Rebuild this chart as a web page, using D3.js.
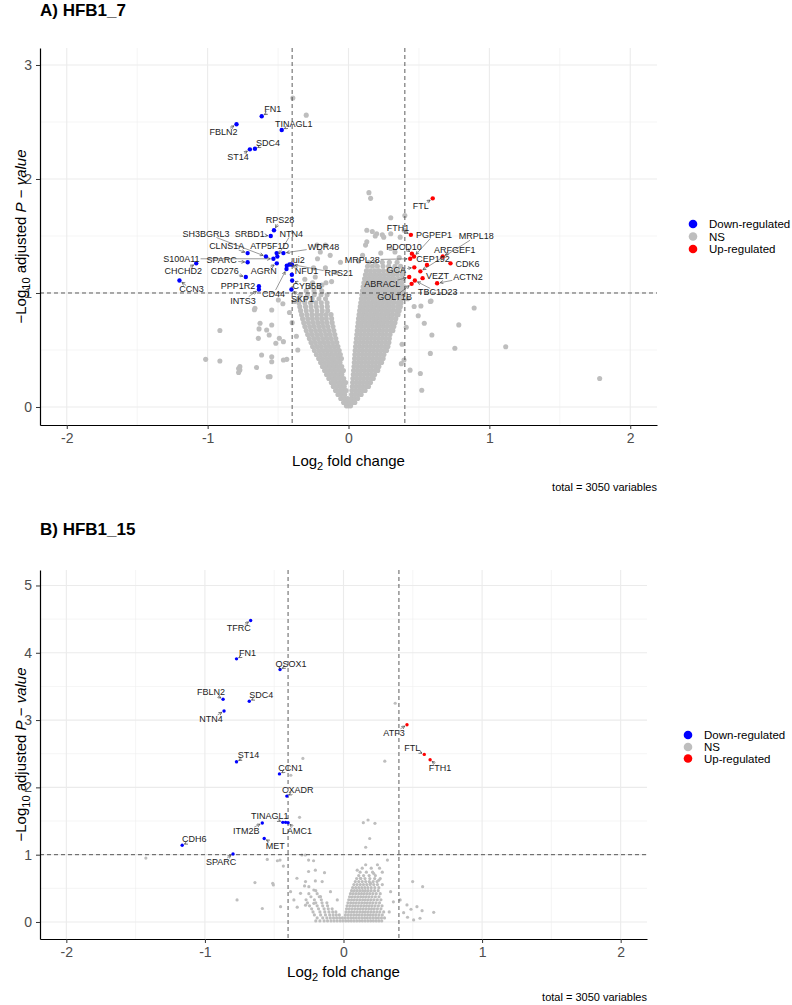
<!DOCTYPE html>
<meta charset="utf-8">
<body style="margin:0;background:#fff">
<script src="https://d3js.org/d3.v7.min.js"></script>
<script>
// ---- shared ----
var xTicks = [-2, -1, 0, 1, 2];
var yTicksA = [0, 1, 2, 3];
var yTicksB = [0, 1, 2, 3, 4, 5];
var fcCut = 0.4, pCut = 1;
var legendLabels = ["Down-regulated", "NS", "Up-regulated"];
var legendColors = ["#0000FF", "#BEBEBE", "#FF0000"];
var caption = "total = 3050 variables";

// ---- A) HFB1_7 : [gene, log2FC, -log10 padj] ----
var downA = [
  ["FN1", -0.616, 2.55], ["FBLN2", -0.795, 2.48], ["TINAGL1", -0.474, 2.43],
  ["SDC4", -0.664, 2.265], ["ST14", -0.70, 2.26], ["RPS28", -0.529, 1.55],
  ["SRBD1", -0.552, 1.50], ["SH3BGRL3", -0.586, 1.32], ["NTN4", -0.505, 1.32],
  ["CLNS1A", -0.716, 1.35], ["ATP5F1D", -0.51, 1.35], ["WDR48", -0.462, 1.35],
  ["S100A11", -0.533, 1.30], ["SPARC", -0.716, 1.27], ["AGRN", -0.509, 1.26],
  ["ui2", -0.438, 1.24], ["NFU1", -0.419, 1.25], ["RPS21", -0.402, 1.25],
  ["CD44", -0.44, 1.21], ["CHCHD2", -1.081, 1.26], ["CCN3", -1.2, 1.11],
  ["CD276", -0.729, 1.14], ["PPP1R2", -0.636, 1.06], ["INTS3", -0.636, 1.03],
  ["CYB5B", -0.40, 1.11], ["SKP1", -0.405, 1.03]
];
var downExtraA = [[-0.402, 1.16]];
var upA = [
  ["FTL", 0.598, 1.83], ["FTH1", 0.443, 1.51], ["PGPEP1", 0.465, 1.32],
  ["PDCD10", 0.45, 1.345], ["MRPL28", 0.438, 1.30], ["ARFGEF1", 0.669, 1.32],
  ["CDK6", 0.724, 1.26], ["CEP192", 0.557, 1.245], ["GCA", 0.467, 1.225],
  ["MRPL18", 0.51, 1.19], ["VEZT", 0.526, 1.13], ["ABRACL", 0.431, 1.14],
  ["ACTN2", 0.629, 1.085], ["TBC1D23", 0.471, 1.11], ["GOLT1B", 0.448, 1.08]
];
var nsA = [
  [-0.395, 2.71], [-0.30, 2.56], [0.145, 1.88], [0.157, 1.83], [0.40, 1.68], [0.30, 1.66],
  [0.169, 1.54], [0.20, 1.52], [0.24, 1.51], [0.30, 1.52], [0.25, 1.49], [0.367, 1.49], [0.395, 1.55],
  [0.13, 1.55], [0.19, 1.5], [0.13, 1.45], [0.121, 1.42], [0.30, 1.39], [0.229, 1.35], [0.33, 1.36],
  [0.36, 1.31], [0.10, 1.33], [0.07, 1.28],
  [-0.164, 1.42], [-0.224, 1.42], [-0.20, 1.36], [-0.164, 1.22], [-0.248, 1.22], [-0.236, 1.14],
  [-0.188, 1.07], [-0.057, 1.27], [-0.09, 1.18], [-0.31, 1.12], [-0.12, 1.10], [-0.22, 1.3], [-0.13, 1.33],
  [-1.014, 0.418], [-0.913, 0.403], [-0.913, 0.671], [-0.78, 0.338], [-0.78, 0.303], [-0.653, 0.347],
  [-0.57, 0.265], [-0.545, 0.44], [-0.545, 0.397], [-0.498, 0.939], [-0.545, 0.851], [-0.664, 0.866],
  [-0.545, 0.719], [-0.581, 0.675], [-0.640, 0.602], [-0.462, 0.573], [-0.771, 0.354], [-0.771, 0.325],
  [-0.557, 0.266], [-0.462, 0.412], [-0.438, 0.418], [-0.628, 0.735], [-0.635, 0.685], [-0.563, 0.632],
  [-0.668, 0.853], [-0.419, 0.829], [-0.466, 0.906], [-0.383, 0.926], [-0.516, 0.559], [-0.491, 0.603],
  [-0.617, 0.456], [-0.40, 0.74], [-0.37, 0.62], [-0.36, 0.5],
  [1.116, 0.529], [1.783, 0.25], [0.892, 0.868], [0.783, 0.72], [0.755, 0.515], [0.592, 0.632],
  [0.581, 0.47], [0.581, 0.926], [0.538, 0.735], [0.52, 0.147], [0.51, 0.294], [0.466, 0.882],
  [0.437, 0.323], [0.394, 0.412], [0.375, 0.38], [0.514, 0.886], [0.495, 0.80], [0.586, 0.93],
  [0.42, 0.95], [0.41, 0.7], [0.38, 0.55]
];
// dense core of the V: [y, [x ...]]
var nsCoreA = [
  [0.01, [-0.015, 0.0, 0.015]],
  [0.04, [-0.035, -0.012, 0.008, 0.028, 0.045]],
  [0.075, [-0.055, -0.03, -0.008, 0.02, 0.042, 0.065]],
  [0.11, [-0.075, -0.05, -0.027, 0.022, 0.046, 0.07, 0.09]],
  [0.145, [-0.092, -0.066, -0.041, -0.017, 0.024, 0.05, 0.073, 0.098, 0.118]],
  [0.18, [-0.108, -0.083, -0.057, -0.03, 0.027, 0.052, 0.077, 0.101, 0.126, 0.142]],
  [0.215, [-0.122, -0.097, -0.07, -0.044, -0.02, 0.029, 0.055, 0.08, 0.104, 0.13, 0.156]],
  [0.25, [-0.14, -0.113, -0.087, -0.06, -0.034, 0.031, 0.057, 0.082, 0.108, 0.133, 0.158, 0.176]],
  [0.285, [-0.156, -0.128, -0.1, -0.073, -0.047, 0.034, 0.059, 0.085, 0.11, 0.136, 0.161, 0.186]],
  [0.32, [-0.17, -0.143, -0.115, -0.088, -0.06, -0.036, 0.036, 0.062, 0.087, 0.113, 0.138, 0.163, 0.189, 0.208]],
  [0.355, [-0.185, -0.157, -0.13, -0.102, -0.075, -0.048, 0.039, 0.064, 0.09, 0.115, 0.141, 0.166, 0.192, 0.216]],
  [0.39, [-0.198, -0.17, -0.142, -0.114, -0.087, -0.06, 0.041, 0.067, 0.092, 0.118, 0.143, 0.169, 0.194, 0.22, 0.235]],
  [0.425, [-0.212, -0.184, -0.155, -0.127, -0.1, -0.072, -0.05, 0.043, 0.069, 0.095, 0.12, 0.146, 0.171, 0.197, 0.222, 0.246]],
  [0.46, [-0.228, -0.198, -0.168, -0.139, -0.111, -0.083, -0.058, 0.045, 0.071, 0.097, 0.123, 0.148, 0.174, 0.2, 0.225, 0.252]],
  [0.495, [-0.242, -0.211, -0.181, -0.151, -0.122, -0.093, -0.066, 0.047, 0.073, 0.099, 0.125, 0.151, 0.177, 0.203, 0.229, 0.255, 0.27]],
  [0.53, [-0.255, -0.224, -0.193, -0.162, -0.133, -0.103, -0.075, 0.05, 0.076, 0.102, 0.128, 0.154, 0.18, 0.206, 0.232, 0.258, 0.28]],
  [0.565, [-0.266, -0.235, -0.204, -0.173, -0.143, -0.113, -0.083, 0.053, 0.079, 0.105, 0.131, 0.157, 0.183, 0.209, 0.235, 0.261, 0.287]],
  [0.6, [-0.278, -0.246, -0.214, -0.183, -0.152, -0.122, -0.09, 0.056, 0.082, 0.108, 0.134, 0.16, 0.186, 0.212, 0.238, 0.264, 0.29]],
  [0.635, [-0.29, -0.257, -0.225, -0.193, -0.161, -0.13, -0.097, 0.059, 0.085, 0.111, 0.137, 0.163, 0.189, 0.215, 0.241, 0.267, 0.295]],
  [0.67, [-0.3, -0.267, -0.234, -0.202, -0.17, -0.138, -0.104, 0.062, 0.088, 0.114, 0.14, 0.166, 0.192, 0.218, 0.244, 0.27, 0.298, 0.315]],
  [0.705, [-0.31, -0.276, -0.243, -0.21, -0.178, -0.146, -0.11, 0.065, 0.091, 0.117, 0.143, 0.169, 0.195, 0.221, 0.247, 0.273, 0.3, 0.322]],
  [0.74, [-0.318, -0.284, -0.25, -0.217, -0.185, -0.152, -0.116, 0.068, 0.094, 0.12, 0.146, 0.172, 0.198, 0.224, 0.25, 0.276, 0.303, 0.33]],
  [0.775, [-0.326, -0.29, -0.256, -0.222, -0.19, -0.157, -0.12, 0.071, 0.097, 0.123, 0.149, 0.175, 0.201, 0.227, 0.253, 0.279, 0.306, 0.336]],
  [0.81, [-0.333, -0.296, -0.26, -0.226, -0.192, -0.158, -0.124, 0.075, 0.101, 0.127, 0.153, 0.179, 0.205, 0.231, 0.257, 0.283, 0.31, 0.34, 0.352]],
  [0.845, [-0.34, -0.3, -0.262, -0.224, -0.186, -0.148, 0.079, 0.105, 0.131, 0.157, 0.183, 0.209, 0.235, 0.261, 0.287, 0.314, 0.344, 0.36]],
  [0.88, [-0.346, -0.305, -0.266, -0.228, -0.19, -0.15, 0.083, 0.109, 0.135, 0.161, 0.187, 0.213, 0.239, 0.265, 0.291, 0.318, 0.348, 0.368]],
  [0.915, [-0.352, -0.31, -0.27, -0.232, -0.193, -0.152, 0.087, 0.113, 0.139, 0.165, 0.191, 0.217, 0.243, 0.269, 0.295, 0.322, 0.352, 0.374]],
  [0.95, [-0.354, -0.305, -0.258, -0.21, -0.163, 0.091, 0.117, 0.143, 0.169, 0.195, 0.221, 0.247, 0.273, 0.299, 0.326, 0.356, 0.38]],
  [0.985, [-0.342, -0.292, -0.243, -0.195, -0.152, 0.095, 0.121, 0.147, 0.173, 0.199, 0.225, 0.251, 0.277, 0.303, 0.33, 0.36, 0.385]],
  [1.02, [-0.3, -0.245, -0.19, 0.099, 0.125, 0.151, 0.177, 0.203, 0.229, 0.255, 0.281, 0.307, 0.334, 0.364, 0.39]],
  [1.055, [-0.27, -0.205, 0.104, 0.13, 0.156, 0.182, 0.208, 0.234, 0.26, 0.286, 0.312, 0.34, 0.37, 0.394]],
  [1.09, [-0.255, -0.16, 0.109, 0.135, 0.161, 0.187, 0.213, 0.239, 0.265, 0.291, 0.318, 0.348, 0.378]],
  [1.125, [0.114, 0.14, 0.166, 0.192, 0.218, 0.244, 0.27, 0.297, 0.325, 0.356, 0.386]],
  [1.16, [0.12, 0.147, 0.174, 0.201, 0.228, 0.256, 0.285, 0.315, 0.347, 0.38]],
  [1.195, [0.127, 0.156, 0.186, 0.216, 0.248, 0.28, 0.314, 0.35, 0.388]],
  [1.235, [0.135, 0.17, 0.205, 0.245, 0.285, 0.33, 0.37]],
  [1.27, [0.145, 0.19, 0.24, 0.29, 0.345]]
];

// ---- B) HFB1_15 ----
var downB = [
  ["TFRC", -0.670, 4.48], ["FN1", -0.772, 3.91], ["QSOX1", -0.458, 3.75],
  ["FBLN2", -0.869, 3.31], ["SDC4", -0.680, 3.28], ["NTN4", -0.862, 3.135],
  ["ST14", -0.772, 2.38], ["CCN1", -0.462, 2.2], ["CXADR", -0.409, 1.87],
  ["TINAGL1", -0.438, 1.48], ["LAMC1", -0.40, 1.475], ["ITM2B", -0.586, 1.47],
  ["MET", -0.572, 1.24], ["CDH6", -1.164, 1.14], ["SPARC", -0.797, 1.01]
];
var downExtraB = [[-0.418, 1.48]];
var upB = [["ATF3", 0.458, 2.93], ["FTL", 0.583, 2.49], ["FTH1", 0.625, 2.41]];
var nsB = [
  [0.373, 3.25], [0.298, 2.39], [-0.293, 2.43], [-0.38, 2.18], [-0.317, 1.555],
  [0.143, 1.475], [0.177, 1.515], [0.227, 1.466], [0.189, 1.24], [0.16, 1.11],
  [-1.426, 0.95], [-0.30, 0.995], [-0.276, 0.995], [-0.252, 0.92], [-0.216, 0.91],
  [-0.55, 0.93], [-0.477, 0.91], [-0.434, 0.83], [-0.639, 0.585], [-0.506, 0.55],
  [-0.336, 0.65], [-0.252, 0.75], [-0.203, 0.77], [-0.281, 0.535], [-0.203, 0.61],
  [-0.768, 0.327], [-0.511, 0.575], [-0.458, 0.92], [-0.137, 0.733], [-0.154, 0.6],
  [-0.358, 0.327], [-0.31, 0.426], [-0.274, 0.6], [-0.25, 0.525], [-0.214, 0.475],
  [-0.166, 0.376], [-0.586, 0.2], [-0.454, 0.227], [-0.382, 0.45], [-0.094, 0.45],
  [-0.045, 0.327], [-0.214, 0.277], [-0.274, 0.25], [-0.334, 0.22],
  [0.499, 0.60], [0.571, 0.525], [0.409, 0.327], [0.458, 0.253], [0.53, 0.228],
  [0.487, 0.189], [0.567, 0.168], [0.651, 0.144], [0.434, 0.138], [0.462, 0.07],
  [0.506, 0.03], [0.552, 0.055], [0.317, 0.92], [0.245, 0.85], [0.16, 0.85],
  [0.099, 0.77], [0.122, 0.65], [0.218, 0.72], [0.254, 0.62], [0.195, 0.575],
  [0.34, 0.45], [0.36, 0.3], [0.33, 0.15]
];
var nsCoreB = [
  [0.015, [-0.2, -0.17, -0.14, -0.115, -0.09, -0.068, -0.046, -0.024, -0.004, 0.016, 0.036, 0.056, 0.076, 0.096, 0.116, 0.136, 0.156, 0.176, 0.196, 0.216, 0.236, 0.256, 0.276]],
  [0.06, [-0.19, -0.15, -0.12, -0.095, -0.072, -0.05, -0.028, -0.008, 0.012, 0.032, 0.052, 0.072, 0.092, 0.112, 0.132, 0.152, 0.172, 0.192, 0.212, 0.232, 0.252, 0.274, 0.296]],
  [0.105, [-0.21, -0.165, -0.13, -0.1, -0.075, -0.052, -0.03, 0.014, 0.034, 0.054, 0.074, 0.094, 0.114, 0.134, 0.154, 0.174, 0.194, 0.214, 0.234, 0.256, 0.28]],
  [0.15, [-0.22, -0.17, -0.135, -0.105, -0.078, -0.055, 0.018, 0.038, 0.058, 0.078, 0.098, 0.118, 0.138, 0.158, 0.178, 0.198, 0.218, 0.24, 0.262, 0.29]],
  [0.195, [-0.23, -0.18, -0.14, -0.11, -0.082, 0.022, 0.042, 0.062, 0.082, 0.102, 0.122, 0.142, 0.162, 0.182, 0.202, 0.222, 0.245, 0.27]],
  [0.24, [-0.245, -0.19, -0.15, -0.115, 0.026, 0.046, 0.066, 0.086, 0.106, 0.126, 0.146, 0.166, 0.186, 0.206, 0.228, 0.252, 0.278]],
  [0.285, [-0.26, -0.2, -0.155, -0.12, 0.032, 0.052, 0.072, 0.092, 0.112, 0.132, 0.152, 0.172, 0.192, 0.212, 0.235, 0.26]],
  [0.33, [-0.27, -0.21, -0.16, 0.038, 0.058, 0.078, 0.098, 0.118, 0.138, 0.158, 0.178, 0.198, 0.22, 0.244, 0.27]],
  [0.375, [-0.235, -0.175, 0.044, 0.064, 0.084, 0.104, 0.124, 0.144, 0.164, 0.184, 0.206, 0.23, 0.256]],
  [0.42, [-0.25, -0.19, 0.05, 0.07, 0.09, 0.11, 0.13, 0.15, 0.17, 0.19, 0.212, 0.236, 0.265]],
  [0.465, [-0.2, 0.058, 0.078, 0.098, 0.118, 0.138, 0.158, 0.178, 0.2, 0.224, 0.25]],
  [0.51, [0.066, 0.088, 0.11, 0.132, 0.154, 0.176, 0.2, 0.226, 0.255]],
  [0.555, [0.075, 0.098, 0.121, 0.144, 0.168, 0.192, 0.218, 0.245, 0.28]],
  [0.6, [0.085, 0.11, 0.135, 0.16, 0.186, 0.214, 0.242]],
  [0.645, [0.095, 0.125, 0.155, 0.19, 0.225, 0.265]],
  [0.69, [0.11, 0.145, 0.185, 0.23]],
  [0.74, [0.12, 0.165, 0.21, 0.28]],
  [0.8, [0.135, 0.2, 0.26]]
];

// label nudges (px from point to label centre)
var nudgeA = {
  FN1: [11, -7], FBLN2: [-13, 8], TINAGL1: [12, -6], SDC4: [13, -6], ST14: [-12, 8],
  RPS28: [6, -10], SRBD1: [-21, -2], SH3BGRL3: [-60, -23], NTN4: [14, -23], CLNS1A: [-21, -7],
  ATP5F1D: [-7, -7], WDR48: [40, -6], S100A11: [-92, 0], SPARC: [-26, -2], AGRN: [-13, 8],
  ui2: [12, -6], NFU1: [17, 7], RPS21: [47, 9], CD44: [-13, 25], CHCHD2: [-13, 8],
  CCN3: [12, 9], CD276: [-21, -6], PPP1R2: [-21, 0], INTS3: [-16, 11], CYB5B: [15, 6], SKP1: [11, 9],
  FTL: [-12, 8], FTH1: [-13, -7], PGPEP1: [20, -22], PDCD10: [-8, -7], MRPL28: [-48, 1],
  ARFGEF1: [12, -7], CDK6: [17, 1], CEP192: [6, -6], GCA: [-18, 3], VEZT: [15, -2],
  MRPL18: [56, -35], ABRACL: [-27, 7], ACTN2: [31, -6], TBC1D23: [23, 12], GOLT1B: [-17, 13]
};
var nudgeB = {
  TFRC: [-12, 8], FN1: [11, -6], QSOX1: [11, -6], FBLN2: [-12, -7], SDC4: [12, -6],
  NTN4: [-13, 8], ST14: [12, -7], CCN1: [11, -6], CXADR: [11, -6], TINAGL1: [-13, -6],
  LAMC1: [9, 8], ITM2B: [-16, 8], MET: [11, 7], CDH6: [12, -6], SPARC: [-12, 8],
  ATF3: [-13, 8], FTL: [-12, -6], FTH1: [10, 8]
};

var svg = d3.select("body").append("svg")
    .attr("width", 792).attr("height", 1005)
    .style("font-family", "'Liberation Sans', Arial, sans-serif");
svg.append("rect").attr("width", 792).attr("height", 1005).attr("fill", "#fff");

svg.append("defs").append("marker")
    .attr("id", "arr").attr("viewBox", "0 0 10 10")
    .attr("refX", 9).attr("refY", 5)
    .attr("markerWidth", 4).attr("markerHeight", 4)
    .attr("markerUnits", "userSpaceOnUse").attr("orient", "auto")
  .append("path").attr("d", "M1,1L9,5L1,9")
    .attr("fill", "none").attr("stroke", "#444").attr("stroke-width", 1.6);

function flatRows(rows) {
  var out = [];
  rows.forEach(function(r) { r[1].forEach(function(v) { out.push([v, r[0]]); }); });
  return out;
}

function drawPanel(p) {
  var g = svg.append("g");
  var x = d3.scaleLinear().domain(p.xDomain).range([p.left, p.right]);
  var y = d3.scaleLinear().domain(p.yDomain).range([p.bottom, p.top]);
  var xMinor = d3.pairs(xTicks).map(function(d) { return (d[0] + d[1]) / 2; });
  var yMinor = d3.pairs(p.yTicks).map(function(d) { return (d[0] + d[1]) / 2; });

  // title
  g.append("text").attr("x", p.left).attr("y", p.titleY)
    .attr("font-size", 17).attr("font-weight", "bold").text(p.title);

  // grid
  g.selectAll(null).data(xMinor).join("line")
    .attr("x1", function(d) { return x(d); }).attr("x2", function(d) { return x(d); })
    .attr("y1", p.top).attr("y2", p.bottom).attr("stroke", "#EEEEEE").attr("stroke-width", 0.6);
  g.selectAll(null).data(yMinor).join("line")
    .attr("y1", function(d) { return y(d); }).attr("y2", function(d) { return y(d); })
    .attr("x1", p.left).attr("x2", p.right).attr("stroke", "#EEEEEE").attr("stroke-width", 0.6);
  g.selectAll(null).data(xTicks).join("line")
    .attr("x1", function(d) { return x(d); }).attr("x2", function(d) { return x(d); })
    .attr("y1", p.top).attr("y2", p.bottom).attr("stroke", "#EBEBEB").attr("stroke-width", 1.1);
  g.selectAll(null).data(p.yTicks).join("line")
    .attr("y1", function(d) { return y(d); }).attr("y2", function(d) { return y(d); })
    .attr("x1", p.left).attr("x2", p.right).attr("stroke", "#EBEBEB").attr("stroke-width", 1.1);

  // NS points
  var ns = p.ns.concat(flatRows(p.nsCore));
  g.selectAll(null).data(ns).join("circle")
    .attr("cx", function(d) { return x(d[0]); }).attr("cy", function(d) { return y(d[1]); })
    .attr("r", p.nsR).attr("fill", "#BEBEBE");

  // cut-off lines
  g.selectAll(null).data([-fcCut, fcCut]).join("line")
    .attr("x1", function(d) { return x(d); }).attr("x2", function(d) { return x(d); })
    .attr("y1", p.top).attr("y2", p.bottom)
    .attr("stroke", "#333").attr("stroke-width", 0.8).attr("stroke-dasharray", "4,3");
  g.append("line").attr("x1", p.left).attr("x2", p.right)
    .attr("y1", y(pCut)).attr("y2", y(pCut))
    .attr("stroke", "#333").attr("stroke-width", 0.8).attr("stroke-dasharray", "4,3");

  // coloured points
  var downPts = p.down.map(function(d) { return [d[1], d[2]]; }).concat(p.downExtra);
  g.selectAll(null).data(downPts).join("circle")
    .attr("cx", function(d) { return x(d[0]); }).attr("cy", function(d) { return y(d[1]); })
    .attr("r", p.ptR).attr("fill", "#0000FF");
  g.selectAll(null).data(p.up).join("circle")
    .attr("cx", function(d) { return x(d[1]); }).attr("cy", function(d) { return y(d[2]); })
    .attr("r", p.ptR).attr("fill", "#FF0000");

  // labels + connectors
  var lineG = g.append("g"), textG = g.append("g");
  p.down.concat(p.up).forEach(function(d) {
    var off = p.nudge[d[0]] || [10, -6];
    var px = x(d[1]), py = y(d[2]);
    var t = textG.append("text")
      .attr("x", px + off[0]).attr("y", py + off[1])
      .attr("text-anchor", "middle").attr("dominant-baseline", "central")
      .attr("font-size", 9).attr("fill", "#222").text(d[0]);
    var b = t.node().getBBox();
    var cx = b.x + b.width / 2, cy = b.y + b.height / 2;
    var dx = px - cx, dy = py - cy;
    var tx = dx === 0 ? Infinity : (b.width / 2 + 1) / Math.abs(dx);
    var ty = dy === 0 ? Infinity : (b.height / 2 - 1) / Math.abs(dy);
    var t0 = Math.min(tx, ty);
    if (t0 >= 1) return;
    var sx = cx + dx * t0, sy = cy + dy * t0;
    var len = Math.sqrt((px - sx) * (px - sx) + (py - sy) * (py - sy));
    var ex = px - (px - sx) / len * (p.ptR + 0.8), ey = py - (py - sy) / len * (p.ptR + 0.8);
    if (len < p.ptR + 2) return;
    lineG.append("line").attr("x1", sx).attr("y1", sy).attr("x2", ex).attr("y2", ey)
      .attr("stroke", "#555").attr("stroke-width", 0.6).attr("marker-end", "url(#arr)");
  });

  // axes
  var ax = g.append("g").attr("transform", "translate(0," + p.bottom + ")")
    .call(d3.axisBottom(x).tickValues(xTicks).tickSize(4).tickSizeOuter(0).tickPadding(4).tickFormat(String));
  var ay = g.append("g").attr("transform", "translate(" + p.left + ",0)")
    .call(d3.axisLeft(y).tickValues(p.yTicks).tickSize(4).tickSizeOuter(0).tickPadding(4).tickFormat(String));
  [ax, ay].forEach(function(a) {
    a.select(".domain").attr("stroke", "#000").attr("stroke-width", 1.2);
    a.selectAll(".tick line").attr("stroke", "#333").attr("stroke-width", 1);
    a.selectAll(".tick text").attr("font-size", 14).attr("fill", "#4D4D4D")
      .attr("font-family", "'Liberation Sans', Arial, sans-serif");
  });

  // axis titles
  var xt = g.append("text").attr("x", (p.left + p.right) / 2).attr("y", p.xTitleY)
    .attr("text-anchor", "middle").attr("font-size", 15).style("white-space", "pre");
  xt.append("tspan").text("Log");
  xt.append("tspan").attr("font-size", 11).attr("dy", 4).text("2");
  xt.append("tspan").attr("dy", -4).text(" fold change");

  var yt = g.append("text")
    .attr("transform", "translate(" + p.yTitleX + "," + ((p.top + p.bottom) / 2) + ") rotate(-90)")
    .attr("text-anchor", "middle").attr("font-size", 15).style("white-space", "pre");
  yt.append("tspan").text("\u2212Log");
  yt.append("tspan").attr("font-size", 11).attr("dy", 4).text("10");
  yt.append("tspan").attr("dy", -4).text(" adjusted ");
  yt.append("tspan").attr("font-style", "italic").text("P");
  yt.append("tspan").text(" \u2212 ");
  yt.append("tspan").attr("font-style", "italic").text("value");

  // caption
  g.append("text").attr("x", p.right).attr("y", p.capY).attr("text-anchor", "end")
    .attr("font-size", 11).text(caption);

  // legend
  var lg = g.append("g");
  legendLabels.forEach(function(l, i) {
    lg.append("circle").attr("cx", p.legX).attr("cy", p.legY[i]).attr("r", 4.3).attr("fill", legendColors[i]);
    lg.append("text").attr("x", p.legX + 16).attr("y", p.legY[i]).attr("dominant-baseline", "central")
      .attr("font-size", 11.5).text(l);
  });
}

drawPanel({
  title: "A) HFB1_7", titleY: 16,
  left: 40, right: 657, top: 48, bottom: 425,
  xDomain: [-2.19, 2.19], yDomain: [-0.158, 3.149], yTicks: yTicksA,
  xTitleY: 466, yTitleX: 26, capY: 491,
  legX: 693, legY: [224, 236.5, 249],
  ptR: 2.2, nsR: 2.55,
  down: downA, downExtra: downExtraA, up: upA, ns: nsA, nsCore: nsCoreA, nudge: nudgeA
});

drawPanel({
  title: "B) HFB1_15", titleY: 535,
  left: 40, right: 647, top: 570, bottom: 939,
  xDomain: [-2.19, 2.19], yDomain: [-0.253, 5.23], yTicks: yTicksB,
  xTitleY: 977, yTitleX: 26, capY: 1001,
  legX: 688, legY: [735, 747, 758.5],
  ptR: 1.7, nsR: 1.6,
  down: downB, downExtra: downExtraB, up: upB, ns: nsB, nsCore: nsCoreB, nudge: nudgeB
});
</script>
</body>
